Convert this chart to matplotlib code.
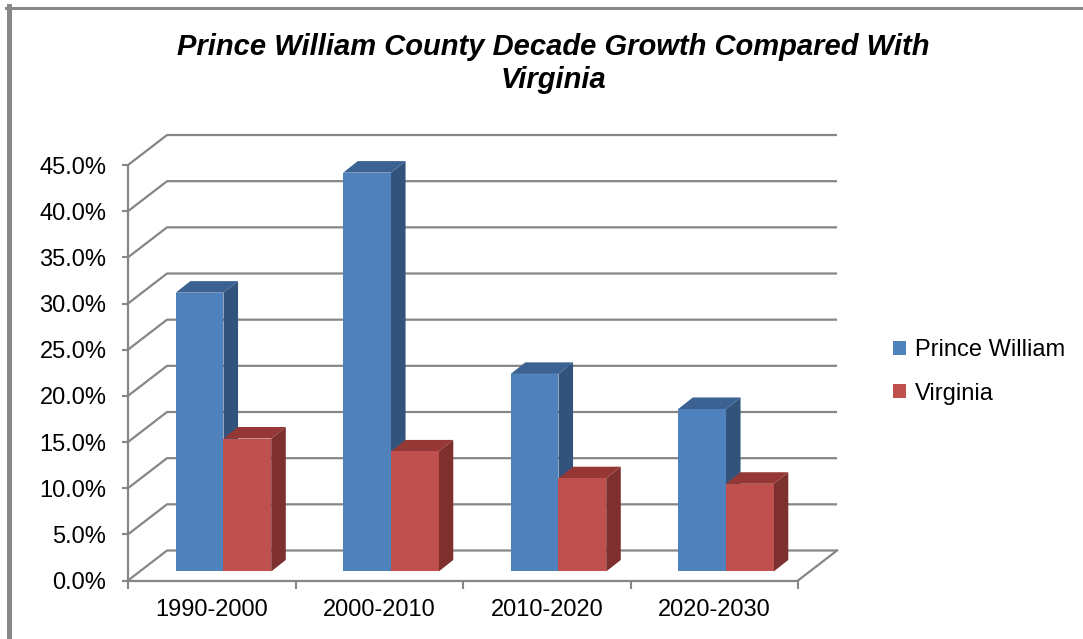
import matplotlib.pyplot as plt
from matplotlib.patches import Polygon, Rectangle
from matplotlib.lines import Line2D

plt.rcParams['font.family'] = ['Liberation Sans', 'DejaVu Sans']

categories = ['1990-2000', '2000-2010', '2010-2020', '2020-2030']
prince_william = [30.2, 43.2, 21.4, 17.6]
virginia = [14.4, 13.0, 10.1, 9.5]
y_ticks = [0, 5, 10, 15, 20, 25, 30, 35, 40, 45]

series = [
    ('Prince William', prince_william, '#4F81BD', '#3B6292', '#32547C'),
    ('Virginia', virginia, '#C0504D', '#943735', '#7D302E'),
]

# fake 3d geometry (category units / percent units)
DX, DY = 0.233, 3.25          # full depth of the floor
OFF_X, OFF_Y = 0.07, 0.975    # bar front plane
BDX, BDY = 0.087, 1.25        # depth of one bar
BAR_W = 0.285
GRID = '#868686'

W, H = 1083, 639
fig = plt.figure(figsize=(W / 100, H / 100), dpi=100)

px_x, px_y = 167.5, 9.233     # pixels per category / per percent
x0_px, y0_px = 128, 580.5
xmax, ymax = 4.3, 49
ax = fig.add_axes([x0_px / W, (H - y0_px) / H, xmax * px_x / W, ymax * px_y / H])
ax.set_xlim(0, xmax)
ax.set_ylim(0, ymax)

# walls: gridlines on side and back wall
for t in y_ticks:
    ax.plot([0, DX, 4 + DX], [t, t + DY, t + DY], color=GRID, lw=1.6,
            solid_capstyle='butt', zorder=1)
ax.plot([4, 4 + DX], [0, DY], color=GRID, lw=1.6, zorder=1)

# bars
for i in range(len(categories)):
    for j, (name, vals, c_front, c_top, c_side) in enumerate(series):
        x0 = i + OFF_X + 0.215 + j * BAR_W
        x1 = x0 + BAR_W
        y0 = OFF_Y
        y1 = y0 + vals[i]
        z = 3 + i * 2 + j
        ax.add_patch(Polygon([(x1, y0), (x1 + BDX, y0 + BDY), (x1 + BDX, y1 + BDY), (x1, y1)],
                             closed=True, facecolor=c_side, edgecolor='none', zorder=z))
        ax.add_patch(Polygon([(x0, y1), (x1, y1), (x1 + BDX, y1 + BDY), (x0 + BDX, y1 + BDY)],
                             closed=True, facecolor=c_top, edgecolor='none', zorder=z))
        ax.add_patch(Rectangle((x0, y0), BAR_W, vals[i], facecolor=c_front,
                               edgecolor='none', zorder=z))

# axes: front edge of floor and front vertical axis
for s in ['top', 'right']:
    ax.spines[s].set_visible(False)
for s in ['left', 'bottom']:
    ax.spines[s].set_color(GRID)
    ax.spines[s].set_linewidth(1.6)
    ax.spines[s].set_zorder(2)
ax.spines['left'].set_bounds(0, 45)
ax.spines['bottom'].set_bounds(0, 4)
ax.set_facecolor('none')

ax.set_yticks(y_ticks)
ax.set_yticklabels([f'{t:.1f}%' for t in y_ticks])
ax.tick_params(axis='y', direction='out', length=4.5, width=1.5, color=GRID,
               pad=11, labelsize=17)
ax.set_xticks(range(len(categories) + 1))
ax.set_xticklabels([])
ax.set_xticks([i + 0.5 for i in range(len(categories))], minor=True)
ax.set_xticklabels(categories, minor=True)
ax.tick_params(axis='x', which='major', direction='out', length=5.5, width=1.5, color=GRID)
ax.tick_params(axis='x', which='minor', length=0, pad=13, labelsize=17)

# legend
handles = [Rectangle((0, 0), 1, 1, facecolor=s[2], edgecolor='none') for s in series]
fig.legend(handles, [s[0] for s in series], loc='center left',
           bbox_to_anchor=(893 / W, (H - 372) / H), frameon=False, fontsize=17,
           handlelength=0.55, handleheight=0.55, handletextpad=0.38,
           labelspacing=0.9, borderpad=0, borderaxespad=0)

fig.text(553 / W, (H - 63.5) / H,
         'Prince William County Decade Growth Compared With\nVirginia',
         ha='center', va='center', fontsize=21, fontweight='bold',
         fontstyle='italic', linespacing=1.2)

# chart frame
fig.add_artist(Line2D([8.5 / W, 8.5 / W], [0, (H - 6) / H], color='#888888', lw=3.6,
                      transform=fig.transFigure))
fig.add_artist(Line2D([6 / W, 1], [(H - 7.5) / H, (H - 7.5) / H], color='#888888', lw=2.2,
                      transform=fig.transFigure))

fig.savefig('out.png', dpi=100)
